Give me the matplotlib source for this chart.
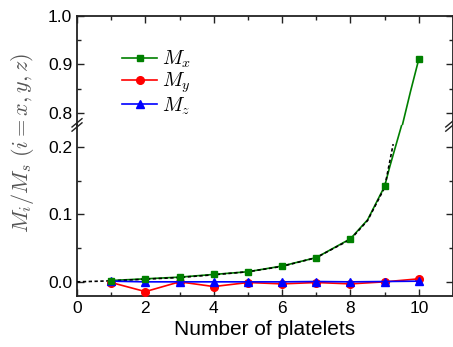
import numpy as np
import matplotlib.pyplot as plt
from matplotlib.ticker import MultipleLocator

plt.rcParams['font.family'] = ['Liberation Sans', 'DejaVu Sans']
plt.rcParams['mathtext.fontset'] = 'cm'

# data
platelets = [1, 2, 3, 4, 5, 6, 7, 8, 9, 10]
mx = [0.002, 0.0045, 0.007, 0.011, 0.015, 0.0235, 0.036, 0.064, 0.142, 0.911]
my = [-0.001, -0.0145, 0.0, -0.007, -0.001, -0.003, -0.001, -0.003, 0.0, 0.0045]
mz = [0.001, 0.0, 0.0, 0.0, 0.0, 0.0, 0.0005, 0.0, 0.0005, 0.001]

# smooth connecting curve of Mx
mx_line_x = [1, 2, 3, 4, 5, 6, 7, 8, 8.5, 9, 9.15, 9.37, 9.50, 9.52, 9.76, 10]
mx_line_y = [0.002, 0.0045, 0.007, 0.011, 0.015, 0.0235, 0.036, 0.064, 0.092,
             0.142, 0.171, 0.210, 0.233, 0.775, 0.845, 0.911]

# dashed fit curve
fit_x = [0, 1, 2, 3, 4, 5, 6, 7, 8, 8.5, 9, 9.25]
fit_y = [0.0, 0.0015, 0.004, 0.0065, 0.0105, 0.015, 0.023, 0.036, 0.063, 0.091, 0.140, 0.2045]

green = '#008000'
red = '#ff0000'
blue = '#0000ff'

fig = plt.figure(figsize=(4.53, 3.47), dpi=100)
ax_top = fig.add_axes([0.170, 0.640, 0.830, 0.314])
ax_bot = fig.add_axes([0.170, 0.147, 0.830, 0.493])

for ax in (ax_top, ax_bot):
    ax.plot(mx_line_x, mx_line_y, color=green, lw=1.2, zorder=2)
    ax.plot(fit_x, fit_y, color='black', lw=1.2, ls=(0, (2, 1.5)), zorder=3)
    ax.plot(platelets, my, color=red, lw=1.2, marker='o', ms=5.5, zorder=4)
    ax.plot(platelets, mz, color=blue, lw=1.2, marker='^', ms=6, zorder=5)
    ax.plot(platelets, mx, color=green, lw=0, marker='s', ms=5, zorder=6)
    ax.set_xlim(0, 11)
    ax.xaxis.set_major_locator(MultipleLocator(2))
    ax.xaxis.set_minor_locator(MultipleLocator(1))
    ax.yaxis.set_minor_locator(MultipleLocator(0.05))
    ax.tick_params(which='both', direction='in', top=True, right=True,
                   labelsize=12.5, width=1.0, colors='#222222', labelcolor='black')
    ax.tick_params(which='major', length=5)
    ax.tick_params(which='minor', length=3)
    for s in ax.spines.values():
        s.set_linewidth(1.3)
        s.set_color('#222222')

ax_top.set_ylim(0.775, 1.0)
ax_top.set_yticks([0.8, 0.9, 1.0])
ax_top.set_yticklabels(['0.8', '0.9', '1.0'])
ax_top.spines['bottom'].set_visible(False)
ax_top.tick_params(which='both', bottom=False, labelbottom=False)

ax_bot.set_ylim(-0.021, 0.233)
ax_bot.set_yticks([0.0, 0.1, 0.2])
ax_bot.set_yticklabels(['0.0', '0.1', '0.2'])
ax_bot.spines['top'].set_visible(False)
ax_bot.tick_params(which='both', top=False)
ax_bot.set_xticks([0, 2, 4, 6, 8, 10])
ax_bot.set_xlabel('Number of platelets', fontsize=15, labelpad=3)

# break marks
yb = 0.640
for xb in (0.170, 0.995):
    for dy in (-0.006, 0.006):
        fig.add_artist(plt.Line2D([xb - 0.011, xb + 0.011], [yb + dy - 0.012, yb + dy + 0.012],
                                  color='#222222', lw=1.0))

fig.text(0.050, 1 - 143 / 347, r'$M_i/M_s\ (i=x,y,z)$', rotation=90,
         ha='center', va='center', fontsize=16, color='#555555')

# legend
h1, = ax_top.plot([], [], color=green, lw=1.2, marker='s', ms=5)
h2, = ax_top.plot([], [], color=red, lw=1.2, marker='o', ms=5.5)
h3, = ax_top.plot([], [], color=blue, lw=1.2, marker='^', ms=6)
ax_top.legend([h1, h2, h3], [r'$M_x$', r'$M_y$', r'$M_z$'], loc='upper left',
              bbox_to_anchor=(0.12, 0.70), frameon=False, fontsize=14.5,
              handlelength=1.75, handletextpad=0.25, labelspacing=0.02,
              borderpad=0, borderaxespad=0)

fig.savefig('out.png', dpi=100)
